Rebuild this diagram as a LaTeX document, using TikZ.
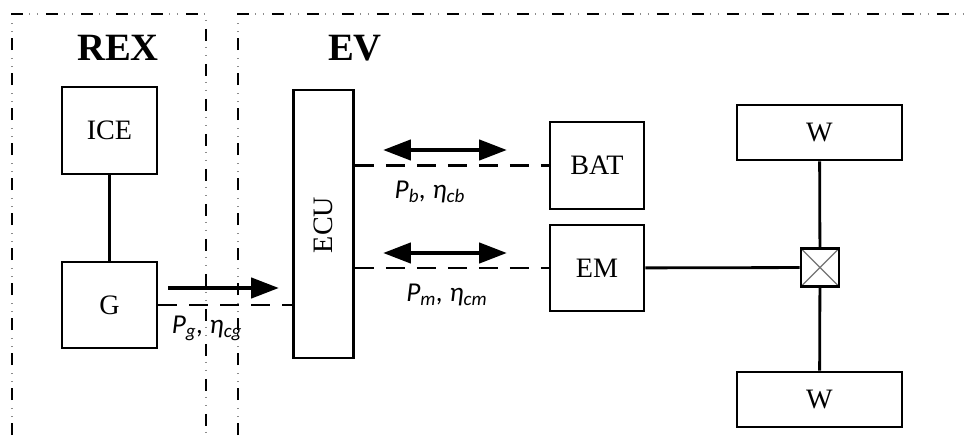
\documentclass[tikz,border=0pt]{standalone}
\usepackage{fontspec}
\setmainfont{Liberation Serif}
\newfontfamily\lblfont{Carlito}
\usetikzlibrary{arrows.meta}

\begin{document}
\begin{tikzpicture}[x=0.02cm,y=-0.02cm,
  blok/.style={draw,line width=1.6pt,inner sep=0pt,font=\fontsize{16}{18}\selectfont},
  zonetrait/.style={line width=1.1pt,dash pattern=on 0.24cm off 0.46cm},
  zonepoint/.style={black!45,line width=0.8pt,dash pattern=on 0.02cm off 0.14cm on 0.02cm off 0.52cm,dash phase=0.34cm},
  lien/.style={line width=1.6pt},
  flux/.style={line width=1.6pt,dash pattern=on 0.38cm off 0.24cm},
  fleche/.style={line width=2.6pt,-{Triangle[length=0.56cm,width=0.4cm]}},
  fleches/.style={line width=2.6pt,{Triangle[length=0.56cm,width=0.4cm]}-{Triangle[length=0.56cm,width=0.4cm]}},
  titre/.style={font=\fontsize{22}{24}\selectfont\bfseries},
  etiq/.style={font=\lblfont\itshape\fontsize{15.5}{17}\selectfont}]

 \useasboundingbox (0,0) rectangle (970,439);
 \clip (0,0) rectangle (970,439);

 % zones REX et EV
 \foreach \st in {zonetrait,zonepoint}{
   \draw[\st] (12,470) -- (12,14) -- (206,14) -- (206,470);
   \draw[\st] (238,470) -- (238,14) -- (1000,14);
 }
 \node[titre] (rex) at (118,48) {REX};
 \node[titre] (ev) at (355,48) {EV};

 % blocs
 \node[blok,minimum width=1.9cm,minimum height=1.74cm] (ice) at (109.5,130.5) {ICE};
 \node[blok,minimum width=1.9cm,minimum height=1.72cm] (g) at (109.5,305) {G};
 \node[blok,minimum width=1.2cm,minimum height=5.36cm] (ecu) at (323.5,224) {};
 \node[font=\fontsize{16}{18}\selectfont,rotate=90] (ecutxt) at (323.5,225) {ECU};
 \node[blok,minimum width=1.88cm,minimum height=1.74cm] (bat) at (597,165.5) {BAT};
 \node[blok,minimum width=1.88cm,minimum height=1.72cm] (em) at (597,268) {EM};
 \node[blok,minimum width=3.3cm,minimum height=1.1cm] (wh) at (819.5,132.5) {W};
 \node[blok,minimum width=3.3cm,minimum height=1.1cm] (wb) at (819.5,399.5) {W};
 \node[blok,minimum size=0.76cm,path picture={
   \draw[black!55,line width=0.7pt] (path picture bounding box.south west) -- (path picture bounding box.north east)
     (path picture bounding box.north west) -- (path picture bounding box.south east);}] (diff) at (820,267.5) {};

 % liaisons mecaniques
 \draw[lien] (ice) -- (g);
 \draw[lien] (em) -- (diff);
 \draw[lien] (wh) -- (diff);
 \draw[lien] (diff) -- (wb);

 % flux de puissance
 \draw[flux] (g.east) -- (g.east -| ecu.west);
 \draw[flux] (bat.west -| ecu.east) -- (bat.west);
 \draw[flux] (em.west -| ecu.east) -- (em.west);

 \coordinate (ga) at (168,288);
 \coordinate (gb) at (279,288);
 \coordinate (ba) at (383,150);
 \coordinate (bb) at (507,150);
 \coordinate (ma) at (383,253);
 \coordinate (mb) at (507,253);
 \draw[fleche] (ga) -- (gb);
 \draw[fleches] (ba) -- (bb);
 \draw[fleches] (ma) -- (mb);

 \node[etiq] (lg) at (207,328) {P\textsubscript{g}, η\textsubscript{cg}};
 \node[etiq] (lb) at (430,192) {P\textsubscript{b}, η\textsubscript{cb}};
 \node[etiq] (lm) at (447,295) {P\textsubscript{m}, η\textsubscript{cm}};

\end{tikzpicture}
\end{document}
